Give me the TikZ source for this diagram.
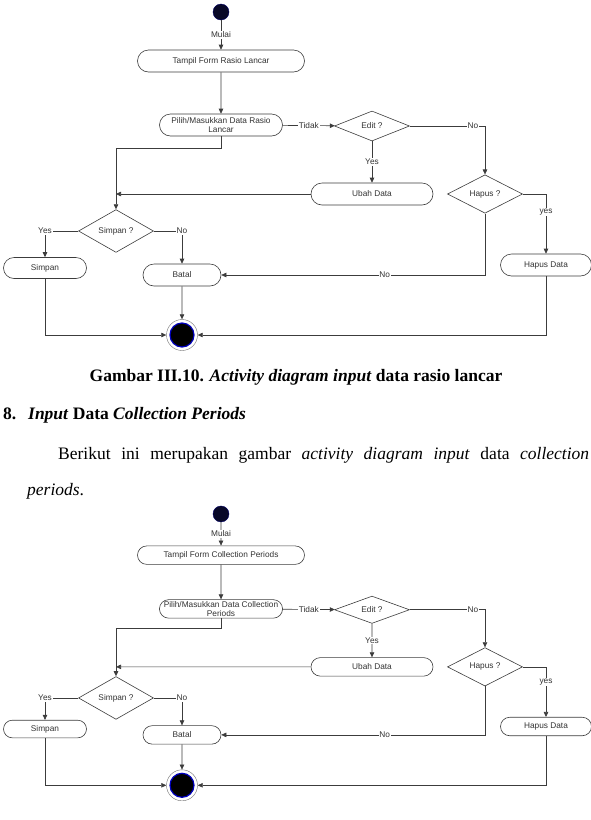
\documentclass[tikz,border=0pt]{standalone}
\usepackage{fontspec}
\setmainfont{Liberation Serif}
\newfontfamily\diagfont{Liberation Sans}
\usetikzlibrary{arrows.meta,shapes.geometric,shapes.misc}

\definecolor{initfill}{RGB}{8,8,40}
\definecolor{linegray}{RGB}{60,60,60}

\begin{document}
\begin{tikzpicture}[x=1pt,y=-1pt,>={Triangle[length=5pt,width=4.5pt]},
  font=\diagfont\fontsize{8.3}{9.6}\selectfont,text=black!80,
  act/.style={rounded rectangle,draw=linegray,line width=0.6pt,fill=white,inner sep=0pt,align=center},
  dec/.style={diamond,draw=linegray,line width=0.6pt,fill=white,inner sep=0pt,minimum width=75pt},
  flow/.style={->,draw=linegray,line width=0.6pt},
  lbl/.style={fill=white,inner sep=0.8pt},
  initial/.style={circle,fill=initfill,draw=blue!40!black,minimum size=16pt,inner sep=0pt},
  endring/.style={circle,draw=black!55,fill=white,minimum size=31pt,inner sep=0pt},
  endcore/.style={circle,fill=black,draw=blue!75!black,line width=1.2pt,minimum size=24pt,inner sep=0pt},
  body/.style={font=\rmfamily\fontsize{17.5}{21}\selectfont,text=black,inner sep=0pt}]
\useasboundingbox (0,0) rectangle (591,820);

% the same activity drawn twice, the second one a bit flatter
\foreach \p/\dy/\sy/\first/\second in {a/0/1/Rasio/Lancar,b/503.9/0.84/Collection/Periods}{
\begin{scope}[shift={(0,\dy)},yscale=\sy]
\node[initial] (start\p) at (221,12) {};
\node[act,minimum width=167pt,minimum height={22pt*\sy}] (form\p) at (221,61) {Tampil Form \first\ \second};
\node[act,minimum width=123pt,minimum height={22pt*\sy}] (input\p) at (221,125) {Pilih/Masukkan Data \first\\\second};
\node[dec,minimum height={30pt*\sy}] (edit\p) at (372,126) {Edit ?};
\node[act,minimum width=122pt,minimum height={22pt*\sy}] (change\p) at (372,194) {Ubah Data};
\node[dec,minimum height={30pt*\sy}] (delq\p) at (485,194) {Hapus ?};
\node[dec,minimum height={29pt*\sy}] (saveq\p) at (116,231) {Simpan ?};
\node[act,minimum width=83pt,minimum height={21pt*\sy}] (save\p) at (45,268) {Simpan};
\node[act,minimum width=78pt,minimum height={22pt*\sy}] (cancel\p) at (182,275) {Batal};
\node[act,minimum width=91pt,minimum height={22pt*\sy}] (del\p) at (546,265) {Hapus Data};
\node[endring] (end\p) at (182,335) {};
\node[endcore] (core\p) at (end\p) {};

\draw[flow] (start\p) -- node[lbl]{Mulai} (form\p);
\draw[flow] (form\p) -- (input\p);
\draw[flow] (input\p) -- node[lbl]{Tidak} (edit\p);
\draw[flow] (edit\p) -| node[lbl,pos=0.42]{No} (delq\p);
\draw[flow] (edit\p) -- node[lbl]{Yes} (change\p);
\draw[flow] (input\p.south) -- ++(0,12) -| (saveq\p.north);
\draw[flow] (change\p) -- (change\p.west -| saveq\p.north);
\draw[flow] (saveq\p) -| node[lbl]{Yes} (save\p);
\draw[flow] (saveq\p) -| node[lbl]{No} (cancel\p);
\draw[flow] (delq\p) -| node[lbl,pos=0.65]{yes} (del\p);
\draw[flow] (delq\p) |- node[lbl,pos=0.69]{No} (cancel\p);
\draw[flow] (cancel\p) -- (end\p);
\draw[flow] (save\p) |- (end\p);
\draw[flow] (del\p) |- (end\p);
\end{scope}}

\node[body,anchor=base,font=\rmfamily\bfseries\fontsize{17.5}{21}\selectfont] (caption) at (296,381)
  {Gambar III.10. \textit{Activity diagram input} data rasio lancar};
\node[body,anchor=base west,font=\rmfamily\bfseries\fontsize{17.5}{21}\selectfont] (heading) at (3,419)
  {\makebox[25pt][l]{8.}\textit{Input} Data \textit{Collection Periods}};
\node[body,anchor=base west] (para) at (58,459)
  {\makebox[531pt][s]{Berikut ini merupakan gambar \textit{activity diagram input} data \textit{collection}}};
\node[body,anchor=base west] (paraend) at (27,495) {\textit{periods}.};
\end{tikzpicture}
\end{document}
